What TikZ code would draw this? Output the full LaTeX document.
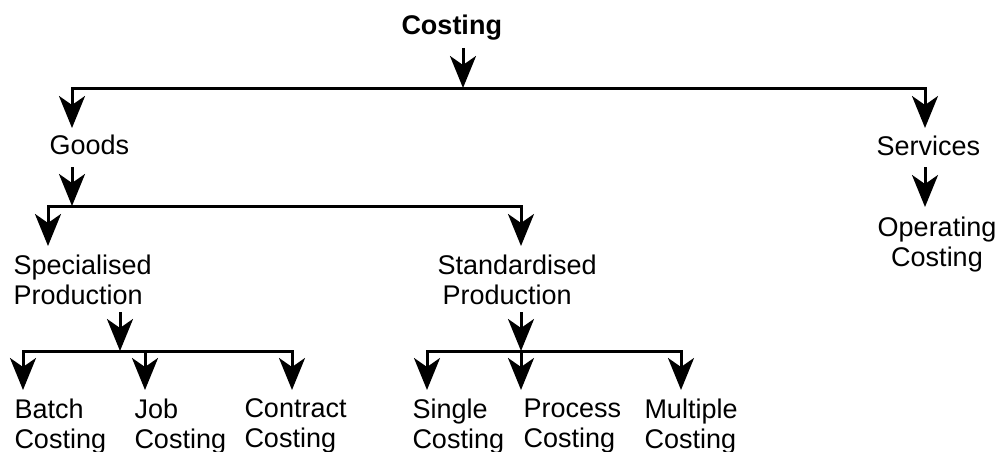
\documentclass[tikz,border=0pt]{standalone}
\usepackage{fontspec}
\setmainfont{Liberation Sans}
\usetikzlibrary{arrows.meta}
\begin{document}
\begin{tikzpicture}[x=1pt,y=-1pt,line width=3pt,
  tipstyle/.tip={Stealth[length=32pt,width=26pt,inset=9pt]},
  arr/.style={-tipstyle},
  arrboth/.style={tipstyle-tipstyle},
  lbl/.style={inner sep=0pt,font=\fontsize{27}{30}\selectfont},
  lblbf/.style={inner sep=0pt,font=\bfseries\fontsize{27}{30}\selectfont}]
\useasboundingbox (0,0) rectangle (998,452);
% labels
\node[lblbf,anchor=base west] (costing) at (400,35) {Costing};
\node[lbl,anchor=base west] (goods) at (48,154) {Goods};
\node[lbl,anchor=base west] (services) at (875,155) {Services};
\node[lbl,align=left,anchor=north west] (special) at (12,253) {Specialised\\Production};
\node[lbl,align=left,anchor=north west] (standard) at (436,253) {Standardised\\\hspace*{5pt}Production};
\node[lbl,align=center,anchor=north] (operating) at (937,215) {Operating\\Costing};
\node[lbl,align=left,anchor=north west] (batch) at (13,397) {Batch\\Costing};
\node[lbl,align=left,anchor=north west] (job) at (133,397) {Job\\Costing};
\node[lbl,align=left,anchor=north west] (contract) at (243,397) {Contract\\Costing};
\node[lbl,align=left,anchor=north west] (single) at (411,397) {Single\\Costing};
\node[lbl,align=left,anchor=north west] (process) at (522,397) {Process\\Costing};
\node[lbl,align=left,anchor=north west] (multiple) at (643,397) {Multiple\\Costing};
% connector points
\coordinate (s0) at (463,48);
\coordinate (j0) at (463,88);
\coordinate (b1l) at (72,88);
\coordinate (b1r) at (925,88);
\coordinate (tg) at (72,128);
\coordinate (ts) at (925,128);
\coordinate (g0) at (72,167);
\coordinate (j2) at (72,206);
\coordinate (b2l) at (48,206);
\coordinate (b2r) at (521,206);
\coordinate (tsp) at (48,246);
\coordinate (tst) at (521,246);
\coordinate (sv0) at (925,167);
\coordinate (top) at (925,207);
\coordinate (sp0) at (120,312);
\coordinate (j3) at (120,351);
\coordinate (b3l) at (23,351);
\coordinate (b3m) at (145,351);
\coordinate (b3r) at (292,351);
\coordinate (tba) at (23,390);
\coordinate (tjo) at (145,390);
\coordinate (tco) at (292,390);
\coordinate (st0) at (521,312);
\coordinate (j4) at (521,351);
\coordinate (b4l) at (427,351);
\coordinate (b4r) at (681,351);
\coordinate (tsi) at (427,390);
\coordinate (tpr) at (521,390);
\coordinate (tmu) at (681,390);
% connectors
\draw[arr] (s0) -- (j0);
\draw[arrboth] (tg) -- (b1l) -- (b1r) -- (ts);
\draw[arr] (g0) -- (j2);
\draw[arrboth] (tsp) -- (b2l) -- (b2r) -- (tst);
\draw[arr] (sv0) -- (top);
\draw[arr] (sp0) -- (j3);
\draw[arrboth] (tba) -- (b3l) -- (b3r) -- (tco);
\draw[arr] (b3m) -- (tjo);
\draw[arr] (st0) -- (j4);
\draw[arrboth] (tsi) -- (b4l) -- (b4r) -- (tmu);
\draw[arr] (j4) -- (tpr);
\end{tikzpicture}
\end{document}
